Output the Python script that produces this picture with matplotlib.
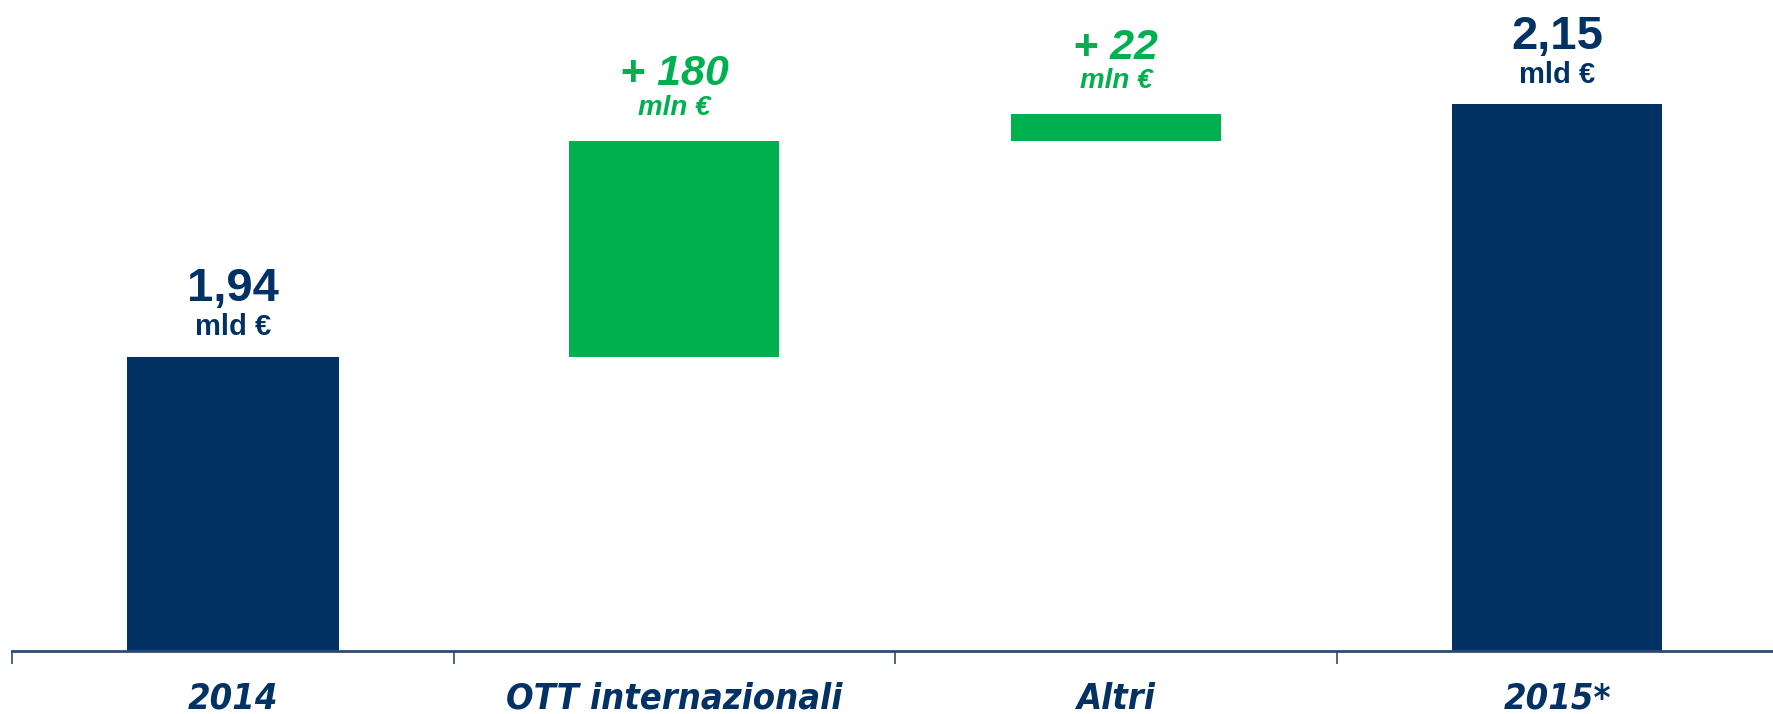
import matplotlib.pyplot as plt

# waterfall: 2014 -> 2015 (mln euro)
categories = ["2014", "OTT internazionali", "Altri", "2015*"]
start_value = 1940
increments = [180, 22]
end_value = 2150
top_labels = ["1,94", "+ 180", "+ 22", "2,15"]
unit_labels = ["mld €", "mln €", "mln €", "mld €"]

navy = "#023263"
green = "#00B04F"
axis_col = "#2E4A73"

ymin, ymax = 1695, 2237

fig = plt.figure(figsize=(17.73, 7.14), dpi=100)
ax = fig.add_axes([12 / 1773, 63 / 714, 1766 / 1773, 651 / 714])

# bar geometry from the data
bottoms = [ymin]
heights = [start_value - ymin]
level = start_value
for inc in increments:
    bottoms.append(level)
    heights.append(inc)
    level += inc
bottoms.append(ymin)
heights.append(end_value - ymin)
colors = [navy, green, green, navy]
widths = [0.48, 0.475, 0.475, 0.475]

xs = list(range(len(categories)))
ax.bar(xs, heights, bottom=bottoms, width=widths, color=colors, zorder=2)

for i, x in enumerate(xs):
    top = bottoms[i] + heights[i]
    is_total = colors[i] == navy
    style = "normal" if is_total else "italic"
    ax.annotate(top_labels[i], (x, top), xytext=(0, 40), textcoords="offset points",
                ha="center", va="baseline", fontsize=34 if is_total else 31,
                fontweight="bold", fontstyle=style, color=colors[i],
                family="Liberation Sans")
    ax.annotate(unit_labels[i], (x, top), xytext=(0, 15.5 if is_total else 18.5),
                textcoords="offset points",
                ha="center", va="baseline", fontsize=21 if is_total else 20,
                fontweight="bold", fontstyle=style, color=colors[i],
                family="Liberation Sans")

ax.set_xlim(-0.5, 3.5)
ax.set_ylim(ymin, ymax)

for s in ["top", "right", "left"]:
    ax.spines[s].set_visible(False)
ax.spines["bottom"].set_color(axis_col)
ax.spines["bottom"].set_linewidth(2)
ax.spines["bottom"].set_zorder(3)
ax.set_yticks([])

ax.set_xticks([-0.5, 0.5, 1.5, 2.5, 3.5])
ax.set_xticklabels([])
ax.tick_params(axis="x", which="major", length=9, width=1.2, color=axis_col, direction="out")
ax.set_xticks(xs, minor=True)
ax.set_xticklabels(categories, minor=True, fontsize=26, fontweight="bold",
                   fontstyle="italic", color=navy, fontstretch="condensed",
                   family="DejaVu Sans")
ax.tick_params(axis="x", which="minor", length=0, pad=22)

plt.savefig("out.png", dpi=100)
